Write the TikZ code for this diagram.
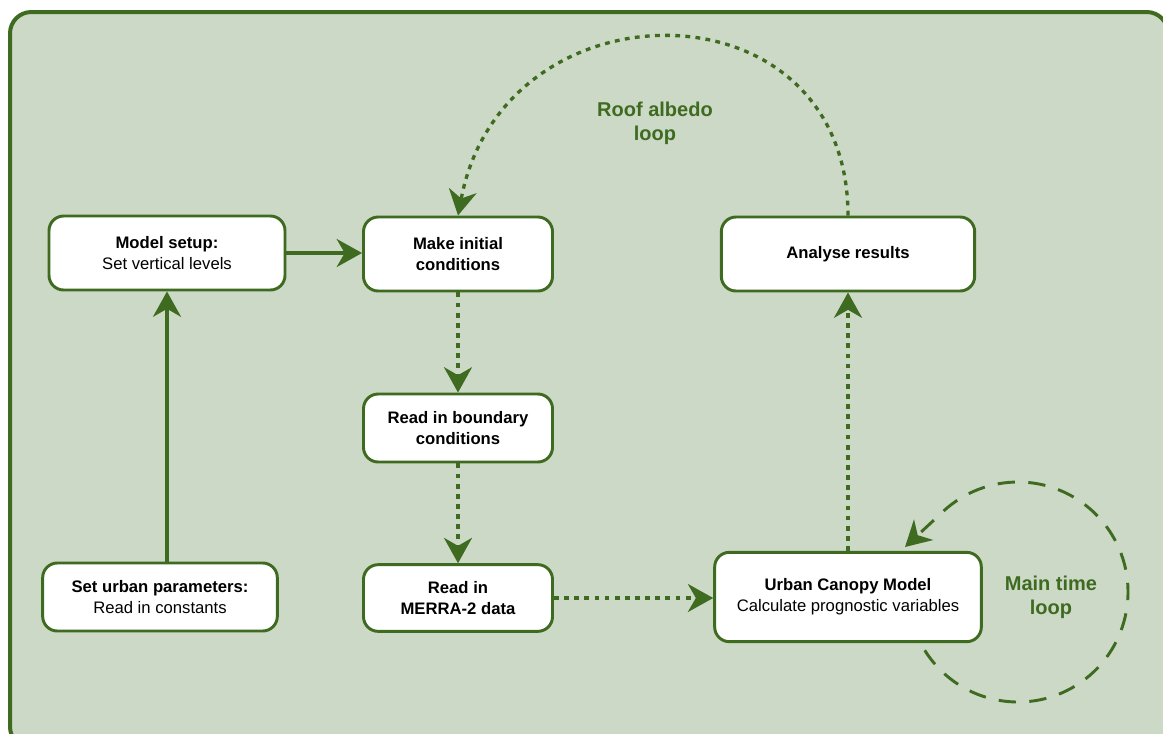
\documentclass[tikz,border=0pt]{standalone}
\usepackage{fontspec}
\setmainfont{Liberation Sans}
\usetikzlibrary{arrows.meta}
\definecolor{bg}{HTML}{CDD9C7}
\definecolor{gr}{HTML}{3E6B20}
\begin{document}
\begin{tikzpicture}[x=0.75pt,y=-0.75pt,
  box/.style={draw=gr, line width=2.2pt, fill=white, rounded corners=11pt, align=center, inner sep=2pt, font=\fontsize{12.5}{15.5}\selectfont},
  tip/.style={-{Stealth[length=19pt,width=21pt,inset=6pt]}},
  solidarr/.style={tip, draw=gr, line width=2.5pt},
  dotarr/.style={tip, draw=gr, line width=2.5pt, dash pattern=on 3.6pt off 4pt},
  looparr/.style={tip, draw=gr, line width=2.2pt, dash pattern=on 13pt off 10pt},
  lbl/.style={text=gr, font=\fontsize{15}{18}\selectfont\bfseries, align=center}]
\useasboundingbox (0,0) rectangle (1163,733);
\fill[white] (0,0) rectangle (1163,733);
\draw[draw=gr, fill=bg, line width=3pt, rounded corners=16pt] (10,12) rectangle (1168,748);

\node[box, minimum width=177pt, minimum height=55.5pt] (ms) at (167,253) {\textbf{Model setup:}\\Set vertical levels};
\node[box, minimum width=141.75pt, minimum height=55.5pt] (mi) at (458,254) {\textbf{Make initial}\\\textbf{conditions}};
\node[box, minimum width=190pt, minimum height=55.5pt] (ar) at (848,254) {\textbf{Analyse results}};
\node[box, minimum width=141.75pt, minimum height=51pt] (rb) at (458,428) {\textbf{Read in boundary}\\\textbf{conditions}};
\node[box, minimum width=176pt, minimum height=51pt] (su) at (160,597) {\textbf{Set urban parameters:}\\Read in constants};
\node[box, minimum width=141.75pt, minimum height=50pt] (me) at (458,598) {\textbf{Read in}\\\textbf{MERRA-2 data}};
\node[box, minimum width=200pt, minimum height=67pt] (uc) at (848,597) {\textbf{Urban Canopy Model}\\Calculate prognostic variables};

\draw[solidarr] (su.north -| ms.south) -- (ms.south);
\draw[solidarr] (ms.east) -- (mi.west |- ms.east);
\draw[dotarr] (mi.south) -- (rb.north);
\draw[dotarr] (rb.south) -- (me.north);
\draw[dotarr] (me.east) -- (uc.west |- me.east);
\draw[dotarr] (uc.north) -- (ar.south);
\draw[dotarr] (ar.north) .. controls (848,-22) and (503,-22) .. (mi.north);

\coordinate (cc) at (1018,592);
\coordinate (lt) at (905,547);
\draw[looparr] ([shift={(212:82.5pt)}]cc) arc[start angle=212, end angle=495, radius=82.5pt] -- (lt);

\node[lbl] (ra) at (655,123) {Roof albedo\\loop};
\node[lbl] (mt) at (1051,597) {Main time\\loop};
\end{tikzpicture}
\end{document}
